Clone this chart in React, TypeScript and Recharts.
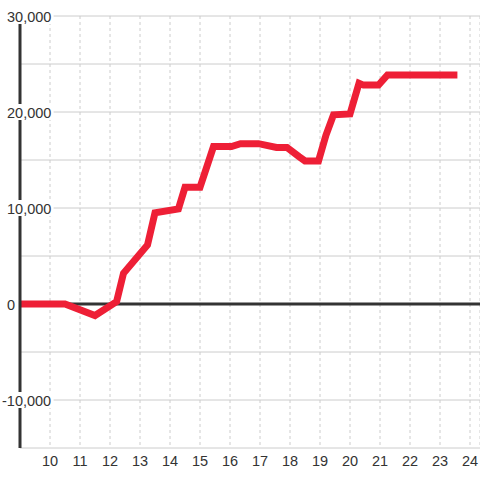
import { LineChart, Line, XAxis, YAxis, CartesianGrid, ReferenceLine } from 'recharts'

// hour of day -> running total
const hours = [9, 10.5, 11.5, 12.22, 12.45, 13.25, 13.5, 14.28, 14.5, 15, 15.45, 16.05, 16.35, 16.95, 17.55, 17.9, 18.3, 18.5, 18.95, 19.2, 19.45, 20, 20.3, 20.45, 20.95, 21.25, 23.58]
const totals = [0, 0, -1200, 250, 3200, 6150, 9500, 9900, 12150, 12150, 16400, 16400, 16700, 16700, 16300, 16300, 15350, 14900, 14900, 17600, 19700, 19800, 23000, 22800, 22800, 23850, 23850]

const xTicks = [10, 11, 12, 13, 14, 15, 16, 17, 18, 19, 20, 21, 22, 23, 24]
const yTicks = [-15000, -10000, -5000, 0, 5000, 10000, 15000, 20000, 25000, 30000]
const yLabels = [30000, 20000, 10000, 0, -10000]

const data = hours.map((h, i) => ({ hour: h, total: totals[i] }))

const FONT = '"Liberation Sans", Arial, sans-serif'

function YTick(props: any) {
  const { y, payload } = props
  const v = payload.value
  if (!yLabels.includes(v)) return <g />
  const label = v.toLocaleString('en-US')
  const neg = v < 0
  const body = label.replace('-', '')
  const w = body.length * 8.1 - (body.includes(',') ? 4 : 0)
  const x0 = 7
  return (
    <g>
      <rect x={0} y={y - 8} width={x0 + w + 2} height={16} fill="#fff" />
      <text x={neg ? x0 - 5 : x0} y={y} dy={5.5} textAnchor="start" fill="#333" fontSize={14.5} fontFamily={FONT}>
        {label}
      </text>
    </g>
  )
}

export default function App() {
  return (
    <div style={{ position: 'absolute', left: 0, top: 0, background: '#fff' }}>
      <style>{`body{margin:0}`}</style>
      <LineChart width={480} height={480} data={data} margin={{ top: 16, right: 0, bottom: 0, left: 0 }}>
        <CartesianGrid vertical={false} stroke="#cccccc" />
        <CartesianGrid horizontal={false} stroke="#cccccc" strokeDasharray="3 3" />
        <XAxis
          dataKey="hour"
          type="number"
          domain={[9, 24.3333]}
          ticks={xTicks}
          allowDataOverflow
          axisLine={false}
          tickLine={false}
          height={32}
          tick={{ fill: '#333', fontSize: 14.5, fontFamily: FONT }}
        />
        <YAxis
          type="number"
          domain={[-15000, 30000]}
          ticks={yTicks}
          width={20}
          tickLine={false}
          axisLine={{ stroke: '#333', strokeWidth: 3 }}
          tick={<YTick />}
        />
        <ReferenceLine y={0} stroke="#333" strokeWidth={3} />
        <Line
          type="linear"
          dataKey="total"
          stroke="#ee1f36"
          strokeWidth={7}
          dot={false}
          activeDot={false}
          isAnimationActive={false}
        />
      </LineChart>
    </div>
  )
}
